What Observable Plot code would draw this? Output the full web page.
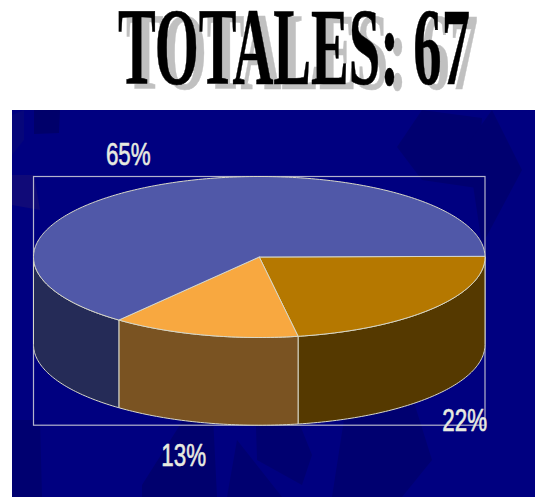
<!DOCTYPE html>
<html lang="es">
<head>
<meta charset="utf-8">
<script src="https://cdn.jsdelivr.net/npm/d3@7"></script>
<script src="https://cdn.jsdelivr.net/npm/@observablehq/plot@0.6"></script>
<style>
  html, body { margin: 0; padding: 0; background: #fff; overflow: hidden; }
  #title { display: block; width: 535px; height: 110px; }
  #title text {
    font: bold 110px "Liberation Serif", serif; fill: #000;
    stroke: #000; stroke-width: 0.6px;
    filter: drop-shadow(8px 5px 0 #c0c0c0);
  }
  #chart { margin-left: 12px; width: 523px; height: 387px; }
  #chart svg { display: block; }
</style>
</head>
<body>
<svg id="title" xmlns="http://www.w3.org/2000/svg" width="535" height="110">
  <text x="118" y="83.5" textLength="352" lengthAdjust="spacingAndGlyphs"></text>
</svg>
<div id="chart"></div>
<script>
const categories = ["A", "B", "C"];
const counts = [15, 9, 43];
const labels = ["22%", "13%", "65%"];
const total = d3.sum(counts);

const topColors = ["#b57800", "#f8a840", "#5058a8"];
const sideColors = ["#553900", "#7a5322", "#252b57"];
const edge = "#d8d8c8";

document.querySelector("#title text").textContent = "TOTALES: " + total;

// Pie projection: x in radius units, y in (tilted) radius units, growing downward.
const startAngle = -0.5;
const depth = 87.7 / 80.5;
const arc = (a0, a1) => d3.range(a0, a1, 1).concat(a1);
const rad = (a) => (a * Math.PI) / 180;

let cursor = startAngle;
const slices = categories.map((c, i) => {
  const a0 = cursor;
  const a1 = a0 + (counts[i] / total) * 360;
  cursor = a1;
  return { c, i, a0, a1 };
});

const topPoints = (s) => [
  { x: 0, y: 0 },
  ...arc(s.a0, s.a1).map((a) => ({ x: Math.cos(rad(a)), y: Math.sin(rad(a)) })),
  { x: 0, y: 0 }
];
const sidePoints = (s) => {
  const from = Math.max(s.a0, 0), to = Math.min(s.a1, 180);
  if (to <= from) return [];
  const up = arc(from, to).map((a) => ({ x: Math.cos(rad(a)), y: Math.sin(rad(a)) }));
  const down = up.map((p) => ({ x: p.x, y: p.y + depth })).reverse();
  return [...up, ...down, up[0]];
};

const labelPlaces = { "22%": [0.91, 2.04], "13%": [-0.335, 2.47], "65%": [-0.58, -1.27] };
const labelRows = labels.map((t) => ({ t, x: labelPlaces[t][0], y: labelPlaces[t][1] }));

const texture = `<svg xmlns='http://www.w3.org/2000/svg' width='523' height='387'>
<g fill='#00006a'>
<polygon points='0,5 12,0 12,30 0,45' fill='#06067a'/>
<polygon points='22,0 48,0 47,23 22,24'/>
<polygon points='0,65 22,65 28,100 0,95' fill='#100a78'/>
<polygon points='385,37 410,0 470,8 465,78 410,70' fill='#000070'/>
<polygon points='455,35 480,0 510,60 470,135' fill='#000070'/>
<polygon points='130,375 190,280 200,285 205,387 130,387' fill='#00006e'/>
<polygon points='243,285 270,270 300,345 290,375 245,350' fill='#000070'/>
<polygon points='335,290 395,270 420,350 390,387 320,387' fill='#000070'/>
<polygon points='0,310 28,310 30,387 0,387' fill='#000070'/>
<polygon points='225,330 270,387 215,387' fill='#000070'/>
</g></svg>`;

const plot = Plot.plot({
  width: 523,
  height: 387,
  marginLeft: 21,
  marginRight: 50.5,
  marginTop: 66,
  marginBottom: 72.3,
  x: { domain: [-1, 1], axis: null },
  y: { domain: [1 + depth, -1], axis: null },
  style: {
    background: `url("data:image/svg+xml,${encodeURIComponent(texture)}"), #000080`,
    overflow: "visible"
  },
  marks: [
    Plot.frame({ stroke: "#b4b4cc", strokeWidth: 1.2 }),
    ...slices.map((s) =>
      Plot.line(sidePoints(s), { x: "x", y: "y", fill: sideColors[s.i], stroke: edge, strokeWidth: 1 })
    ),
    ...slices.map((s) =>
      Plot.line(topPoints(s), { x: "x", y: "y", fill: topColors[s.i], stroke: edge, strokeWidth: 1 })
    ),
    Plot.text(labelRows, {
      x: "x", y: "y", text: "t",
      fill: "#e8ebe0", stroke: "#e8ebe0", strokeWidth: 0.6,
      fontSize: 32, fontFamily: "'Liberation Sans', sans-serif",
      render(index, scales, values, dimensions, context, next) {
        const g = next(index, scales, values, dimensions, context);
        g.querySelectorAll("text").forEach((t) => {
          t.setAttribute("transform", `${t.getAttribute("transform") || ""} scale(0.7,1)`);
        });
        return g;
      }
    })
  ]
});
document.getElementById("chart").append(plot);
</script>
</body>
</html>
